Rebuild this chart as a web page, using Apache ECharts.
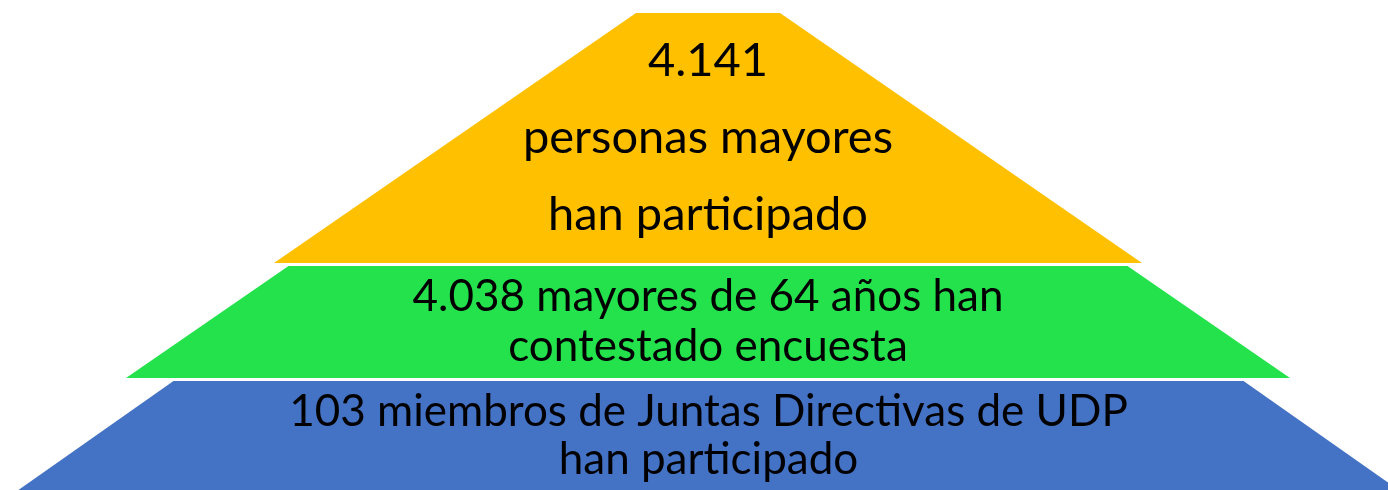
<!DOCTYPE html>
<html>
<head>
<meta charset="utf-8">
<script src="https://cdn.jsdelivr.net/npm/echarts@6/dist/echarts.min.js"></script>
<style>
  html, body { margin: 0; padding: 0; background: #ffffff; }
  #chart { width: 1388px; height: 490px; }
</style>
</head>
<body>
<div id="chart"></div>
<script>
// Pyramid levels, top to bottom
const levelLabels = [
  '4.141\npersonas mayores\nhan participado',
  '4.038 mayores de 64 años han\ncontestado encuesta',
  '103 miembros de Juntas Directivas de UDP\nhan participado'
];
const levelCounts = [4141, 4038, 103];
const levelColors = ['#FFC000', '#23E24C', '#4472C4'];

// Layout of each level band (presentation only)
const bands = [
  { left: 274, top: 13, width: 868, height: 250, minSize: 144, fontSize: 47, lineHeight: 77 },
  { left: 126, top: 266, width: 1164, height: 112, minSize: 839, fontSize: 44, lineHeight: 50 },
  { left: 17, top: 381, width: 1383, height: 110, minSize: 1070, fontSize: 44, lineHeight: 48 }
];

const chart = echarts.init(document.getElementById('chart'), null, { renderer: 'canvas' });

const series = levelLabels.map(function (label, i) {
  const b = bands[i];
  return {
    type: 'funnel',
    sort: 'ascending',
    left: b.left,
    top: b.top,
    width: b.width,
    height: b.height,
    min: 0,
    max: levelCounts[i],
    minSize: b.minSize,
    maxSize: '100%',
    gap: 0,
    silent: true,
    itemStyle: { color: levelColors[i], borderWidth: 0 },
    label: {
      show: true,
      position: 'inside',
      color: '#000000',
      fontFamily: 'Lato, "Open Sans", sans-serif',
      fontSize: b.fontSize,
      lineHeight: b.lineHeight,
      align: 'center',
      textBorderWidth: 0
    },
    labelLine: { show: false },
    emphasis: { disabled: true },
    data: [{ name: label, value: levelCounts[i] }]
  };
});

chart.setOption({
  animation: false,
  backgroundColor: '#ffffff',
  series: series
});
</script>
</body>
</html>
